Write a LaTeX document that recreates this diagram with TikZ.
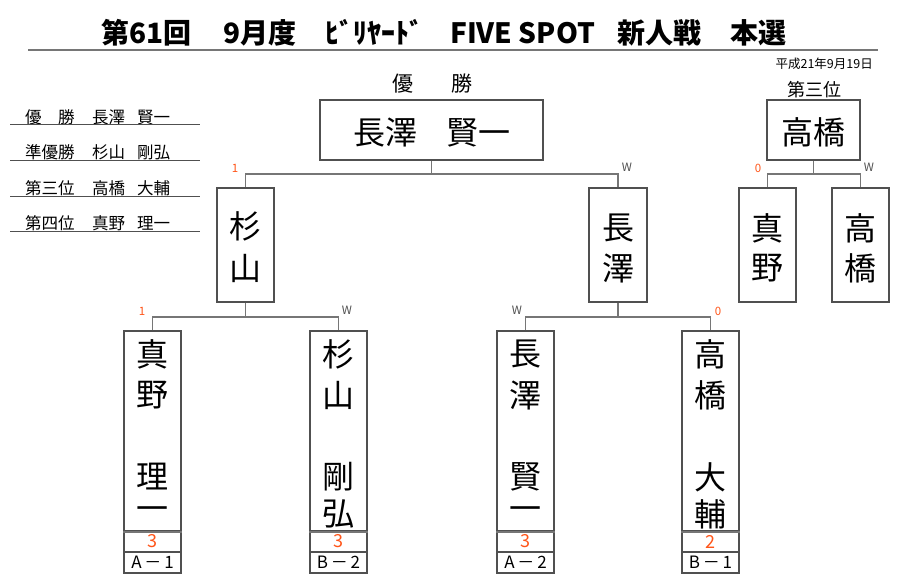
\documentclass[tikz,border=0pt]{standalone}
\usepackage{fontspec}
\setmainfont{Noto Sans CJK JP}
\definecolor{linegray}{RGB}{118,118,118}
\definecolor{boxgray}{RGB}{80,80,80}
\definecolor{orng}{RGB}{255,85,25}
\begin{document}
\begin{tikzpicture}[x=1pt,y=-1pt,
  conn/.style={draw=linegray, line width=1.4pt},
  bx/.style={draw=boxgray, line width=1.1pt, inner sep=0pt, fill=white},
  nm/.style={font=\fontsize{32}{32}\selectfont, inner sep=0pt},
  leg/.style={font=\fontsize{16.5}{16.5}\selectfont, inner sep=0pt, anchor=west},
  legline/.style={draw=boxgray, line width=1pt},
  sm/.style={font=\fontsize{11.5}{11.5}\selectfont, inner sep=0pt},
  win/.style={sm, text=boxgray},
  lose/.style={sm, text=orng},
  ttl/.style={font=\bfseries\fontsize{28}{28}\selectfont, inner sep=0pt, anchor=base west},
  sc/.style={font=\fontsize{18}{18}\selectfont, inner sep=0pt, text=orng},
  lb/.style={font=\fontsize{17}{17}\selectfont, inner sep=0pt}
]
\useasboundingbox[fill=white] (0,0) rectangle (900,587);

% title
\node[ttl] (t1) at (101,43) {第61回};
\node[ttl] (t2) at (223,43) {9月度};
\node[ttl] (t3) at (325,43) {ﾋﾞﾘﾔｰﾄﾞ};
\node[ttl] (t4) at (450,43) {FIVE SPOT};
\node[ttl] (t5) at (617,43) {新人戦};
\node[ttl] (t6) at (730,43) {本選};
\draw[draw=linegray, line width=2pt] (28,49.5) -- (878,49.5);
\node[inner sep=0pt, anchor=east, font=\fontsize{12.5}{12.5}\selectfont] (date) at (873,64) {平成21年9月19日};

% legend
\node[leg] (l1a) at (25,117) {優　勝};
\node[leg] (l1b) at (92,117) {長澤};
\node[leg] (l1c) at (137,117) {賢一};
\node[leg] (l2a) at (25,152) {準優勝};
\node[leg] (l2b) at (92,152) {杉山};
\node[leg] (l2c) at (137,152) {剛弘};
\node[leg] (l3a) at (25,188) {第三位};
\node[leg] (l3b) at (92,188) {高橋};
\node[leg] (l3c) at (137,188) {大輔};
\node[leg] (l4a) at (25,223.5) {第四位};
\node[leg] (l4b) at (92,223.5) {真野};
\node[leg] (l4c) at (137,223.5) {理一};
\draw[legline] (10,124) -- (200,124);
\draw[legline] (10,160) -- (200,160);
\draw[legline] (10,196) -- (200,196);
\draw[legline] (10,231) -- (200,231);

% junction coordinates
\coordinate (j1) at (431.5,174);
\coordinate (j2) at (245.5,317);
\coordinate (j3) at (618,317);
\coordinate (j4) at (813.5,174);

% boxes
\node[bx, minimum width=223, minimum height=60] (champ) at (431.5,130) {};
\node[bx, minimum width=93, minimum height=60] (third) at (813.5,130) {};
\node[bx, minimum width=57, minimum height=114] (sf1) at (245.5,245) {};
\node[bx, minimum width=58, minimum height=114] (sf2) at (618,245) {};
\node[bx, minimum width=57, minimum height=114] (tp1) at (767.5,245) {};
\node[bx, minimum width=57, minimum height=114] (tp2) at (860.5,245) {};

\foreach \n/\x in {p1/152.5, p2/338.5, p3/525.5, p4/710.5}{
  \node[bx, minimum width=57, minimum height=200] (\n) at (\x,431) {};
  \node[bx, minimum width=57, minimum height=21] (\n s) at (\x,541.5) {};
  \node[bx, minimum width=57, minimum height=21] (\n l) at (\x,562.5) {};
}
\foreach \n in {p1,p2,p3,p4}{
  \draw[draw=linegray, line width=2pt] (\n.south west) -- (\n.south east);
}

% connectors
\draw[conn] (champ.south) -- (j1);
\draw[conn] (sf1.north) |- (j1) -| (sf2.north);
\draw[conn] (sf1.south) -- (j2);
\draw[conn] (p1.north) |- (j2) -| (p2.north);
\draw[conn] (sf2.south) -- (j3);
\draw[conn] (p3.north) |- (j3) -| (p4.north);
\draw[conn] (third.south) -- (j4);
\draw[conn] (tp1.north) |- (j4) -| (tp2.north);

% labels above
\node[inner sep=0pt, font=\fontsize{21}{21}\selectfont] (yu) at (402.5,84) {優};
\node[inner sep=0pt, font=\fontsize{21}{21}\selectfont] (sho) at (461.5,84) {勝};
\node[inner sep=0pt, font=\fontsize{18}{18}\selectfont] (thl) at (814,90) {第三位};

% names
\node[nm] (cn1) at (385,133) {長澤};
\node[nm] (cn2) at (478.5,133) {賢一};
\node[nm] (thn) at (813.5,132) {高橋};

\node[nm] at (245.5,226) {杉};
\node[nm] at (245.5,268) {山};
\node[nm] at (618,228) {長};
\node[nm] at (618,268) {澤};
\node[nm] at (767.5,228) {真};
\node[nm] at (767.5,268) {野};
\node[nm] at (860.5,228) {高};
\node[nm] at (860.5,268) {橋};

\foreach \x/\a/\b/\c/\d in {152.5/真/野/理/一, 338.5/杉/山/剛/弘, 525.5/長/澤/賢/一, 710.5/高/橋/大/輔}{
  \node[nm] at (\x,354) {\a};
  \node[nm] at (\x,395) {\b};
  \node[nm] at (\x,477) {\c};
  \node[nm] at (\x,514) {\d};
}

% scores and group labels
\node[sc] at (p1s) {3};
\node[sc] at (p2s) {3};
\node[sc] at (p3s) {3};
\node[sc] at (p4s) {2};
\node[lb] at (p1l) {A\,－\,1};
\node[lb] at (p2l) {B\,－\,2};
\node[lb] at (p3l) {A\,－\,2};
\node[lb] at (p4l) {B\,－\,1};

% results
\node[lose] at (235,168) {1};
\node[win] at (627,167) {W};
\node[lose] at (758,168) {0};
\node[win] at (869,167) {W};
\node[lose] at (142,311) {1};
\node[win] at (347,310) {W};
\node[win] at (517,310) {W};
\node[lose] at (718,311) {0};
\end{tikzpicture}
\end{document}
